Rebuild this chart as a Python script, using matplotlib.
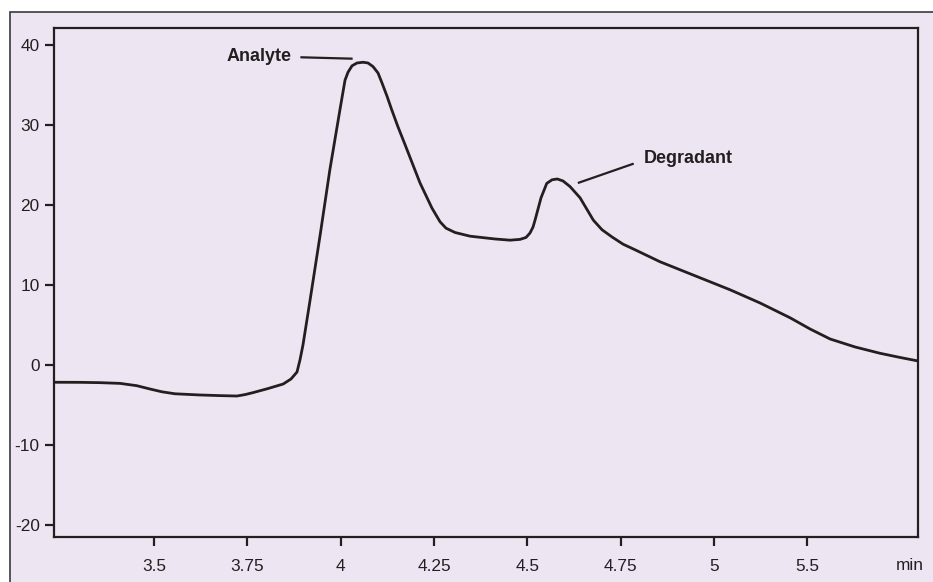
import matplotlib
matplotlib.use("Agg")
import matplotlib.pyplot as plt
from matplotlib.patches import Rectangle
import logging
logging.getLogger("matplotlib.font_manager").setLevel(logging.ERROR)

# ---- data (retention time in min, detector signal) ----
time_min = [3.235, 3.302, 3.355, 3.409, 3.454, 3.489, 3.521, 3.556, 3.623, 3.677,
            3.722, 3.744, 3.765, 3.805, 3.846, 3.867, 3.883, 3.891, 3.899, 3.918,
            3.945, 3.971, 3.998, 4.0116, 4.0197, 4.0304, 4.0438, 4.0598, 4.0732, 4.0866,
            4.100, 4.1107, 4.1241, 4.1367, 4.1536, 4.1723, 4.2125, 4.2446, 4.2661, 4.2821,
            4.3063, 4.3464, 4.4134, 4.4536, 4.4804, 4.4964, 4.5071, 4.5152, 4.5205, 4.5366,
            4.5519, 4.5661, 4.5803, 4.5955, 4.6143, 4.6411, 4.6767, 4.700, 4.7268, 4.7563,
            4.7884, 4.8554, 4.9357, 5.0429, 5.1232, 5.2036, 5.2571, 5.3107, 5.3777, 5.4447,
            5.4982, 5.5464]
signal = [-2.16, -2.17, -2.21, -2.30, -2.59, -3.00, -3.35, -3.60, -3.75, -3.83,
          -3.88, -3.70, -3.46, -2.95, -2.38, -1.75, -0.88, 0.63, 2.5, 8.1,
          16.25, 24.4, 31.9, 35.6, 36.6, 37.4, 37.75, 37.84, 37.75, 37.3,
          36.5, 35.25, 33.6, 31.9, 29.75, 27.55, 22.75, 19.6, 17.9, 17.1,
          16.56, 16.1, 15.75, 15.6, 15.7, 15.94, 16.5, 17.25, 18.1, 20.9,
          22.7, 23.15, 23.25, 23.0, 22.3, 20.9, 18.1, 16.9, 16.0, 15.1,
          14.4, 12.9, 11.4, 9.4, 7.75, 5.9, 4.5, 3.25, 2.25, 1.46,
          0.94, 0.5]

x_tick_pos = [3.5, 3.75, 4.0, 4.25, 4.5, 4.75, 5.0, 5.25]
x_tick_labels = ["3.5", "3.75", "4", "4.25", "4.5", "4.75", "5", "5.5"]
y_ticks = [-20, -10, 0, 10, 20, 30, 40]
y_tick_labels = ["-20", "-10", "0", "10", "20", "30", "40"]
x_unit_label = "min"

peak_labels = ["Analyte", "Degradant"]
label_xy = [(3.869, 38.54), (4.8125, 25.75)]
leader_start = [(3.895, 38.46), (4.638, 22.79)]
leader_end = [(4.029, 38.29), (4.782, 25.125)]

# ---- styling ----
BG = "#EDE6F2"
INK = "#231F20"
tick_font = ["Liberation Sans Narrow", "Liberation Sans", "DejaVu Sans"]

fig = plt.figure(figsize=(9.33, 5.82), dpi=100, facecolor="white")
# outer panel (frame cropped at right/bottom)
fig.patches.append(Rectangle((10 / 933, -0.1), 1.2, 0.1 + (1 - 12 / 582),
                             transform=fig.transFigure, facecolor=BG,
                             edgecolor="#3a3a3a", linewidth=1.2, zorder=-5))

ax = fig.add_axes([54.3 / 933, 1 - 537.3 / 582, (918.3 - 54.3) / 933, (537.3 - 27.7) / 582])
ax.set_zorder(2)
ax.set_facecolor(BG)
ax.plot(time_min, signal, color=INK, linewidth=2.0, solid_joinstyle="round",
        solid_capstyle="round", antialiased=True)

ax.set_xlim(3.233, 5.547)
ax.set_ylim(-21.54, 42.16)

for s in ax.spines.values():
    s.set_color(INK)
    s.set_linewidth(1.6)

ax.set_xticks(x_tick_pos)
ax.set_xticklabels(x_tick_labels, family=tick_font, fontsize=12.4, color=INK)
ax.set_yticks(y_ticks)
ax.set_yticklabels(y_tick_labels, family=tick_font, fontsize=12.4, color=INK)
ax.tick_params(axis="x", direction="out", length=6.5, width=1.6, color=INK, pad=9)
ax.tick_params(axis="y", direction="out", length=6.5, width=1.6, color=INK, pad=4)

ax.text(5.525, -0.055, x_unit_label, transform=ax.get_xaxis_transform(),
        ha="center", va="center", family=tick_font, fontsize=12.4, color=INK)

for name, (tx, ty), (x0, y0), (x1, y1), ha in zip(peak_labels, label_xy, leader_start,
                                                  leader_end, ["right", "left"]):
    ax.text(tx, ty, name, ha=ha, va="center", fontsize=13, fontweight="bold",
            family=["Liberation Sans", "DejaVu Sans"], color=INK)
    ax.plot([x0, x1], [y0, y1], color=INK, linewidth=1.6)

fig.savefig("out.png", dpi=100, facecolor=fig.get_facecolor())
